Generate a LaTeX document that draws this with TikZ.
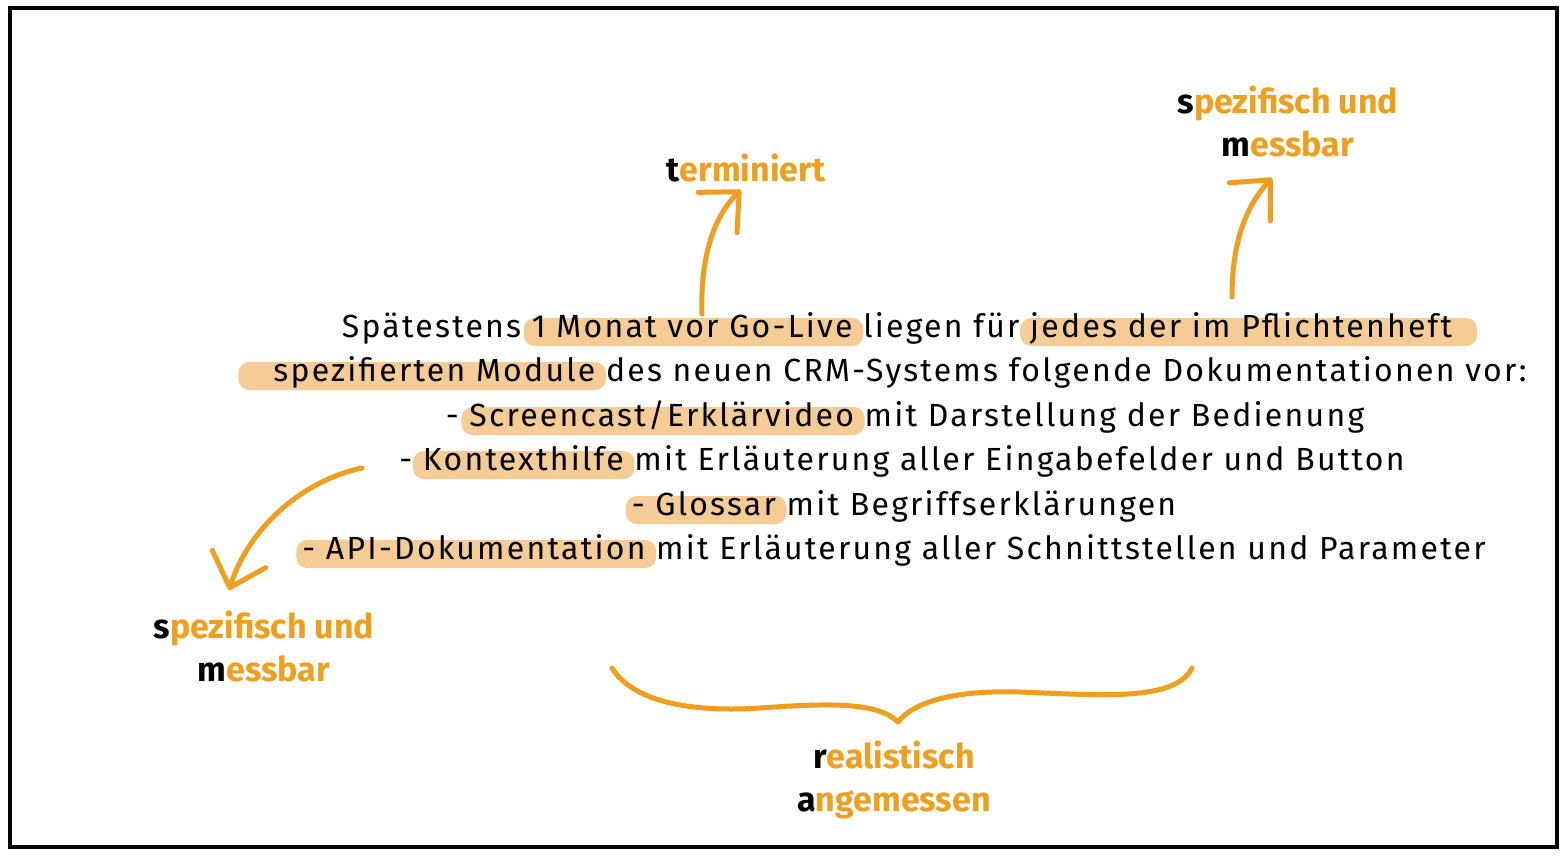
\documentclass[tikz,border=0pt]{standalone}
\usepackage{fontspec}
\setmainfont{Fira Sans}
\newfontfamily\hand[LetterSpace=7]{Fira Sans}
\usetikzlibrary{arrows.meta,backgrounds,calc}
\definecolor{org}{RGB}{240,158,30}
\definecolor{hl}{RGB}{246,204,150}
\newcommand\hlbox[3]{\fill[hl, rounded corners=11pt] ($(#1.base west)+(-#2,9)$) rectangle ($(#1.base east)+(#3,-19)$);}
\newcommand\wsp{\hbox{\ }}
\tikzset{
  txt/.style={inner sep=0pt, outer sep=0pt, anchor=base west, font=\hand\fontsize{32}{43}\selectfont},
  phan/.style={inner sep=0pt, outer sep=0pt, anchor=base, font=\hand\fontsize{32}{43}\selectfont},
  lab/.style={inner sep=0pt, text=org, align=center, font=\fontsize{34}{43}\selectfont\bfseries},
  arr/.style={draw=org, line width=5pt, line cap=round, -{Straight Barb[length=30pt,width=56pt,round]}},
  brace/.style={draw=org, line width=5pt, line cap=round, line join=round},
}
\begin{document}
\begin{tikzpicture}[x=1pt,y=-1pt]
\useasboundingbox (0,0) rectangle (1565,860);
\begin{pgfonlayer}{background}
\fill[white] (0,0) rectangle (1565,860);
\end{pgfonlayer}
\draw[line width=3.5pt] (10,8) rectangle (1557,847);

% line 1
\node[phan] (P1) at (897,337) {\phantom{Spätestens\wsp 1 Monat vor Go-Live\wsp liegen für\wsp jedes der im Pflichtenheft}};
\node[txt] (l1a) at (P1.base west) {Spätestens\wsp};
\node[txt] (l1b) at (l1a.base east) {1 Monat vor Go-Live\wsp};
\node[txt] (l1c) at (l1b.base east) {liegen für\wsp};
\node[txt] (l1d) at (l1c.base east) {jedes der im Pflichtenheft};
% line 2
\node[phan] (P2) at (900,381) {\phantom{spezifierten Module\wsp des neuen CRM-Systems folgende Dokumentationen vor:}};
\node[txt] (l2a) at (P2.base west) {spezifierten Module\wsp};
\node[txt] (l2b) at (l2a.base east) {des neuen CRM-Systems folgende Dokumentationen vor:};
% line 3
\node[phan] (P3) at (905,426) {\phantom{-\wsp Screencast/Erklärvideo\wsp mit Darstellung der Bedienung}};
\node[txt] (l3a) at (P3.base west) {-\wsp};
\node[txt] (l3b) at (l3a.base east) {Screencast/Erklärvideo\wsp};
\node[txt] (l3c) at (l3b.base east) {mit Darstellung der Bedienung};
% line 4
\node[phan] (P4) at (902,470) {\phantom{-\wsp Kontexthilfe\wsp mit Erläuterung aller Eingabefelder und Button}};
\node[txt] (l4a) at (P4.base west) {-\wsp};
\node[txt] (l4b) at (l4a.base east) {Kontexthilfe\wsp};
\node[txt] (l4c) at (l4b.base east) {mit Erläuterung aller Eingabefelder und Button};
% line 5
\node[phan] (P5) at (904,515) {\phantom{- Glossar\wsp mit Begriffserklärungen}};
\node[txt] (l5a) at (P5.base west) {- Glossar\wsp};
\node[txt] (l5b) at (l5a.base east) {mit Begriffserklärungen};
% line 6
\node[phan] (P6) at (894,559) {\phantom{- API-Dokumentation\wsp mit Erläuterung aller Schnittstellen und Parameter}};
\node[txt] (l6a) at (P6.base west) {- API-Dokumentation\wsp};
\node[txt] (l6b) at (l6a.base east) {mit Erläuterung aller Schnittstellen und Parameter};

\begin{pgfonlayer}{background}
\hlbox{l1b}{8}{0}
\hlbox{l1d}{10}{25}
\hlbox{l2a}{35}{0}
\hlbox{l3b}{8}{0}
\hlbox{l4b}{10}{0}
\hlbox{l5a}{6}{0}
\hlbox{l6a}{6}{0}
\end{pgfonlayer}

% labels
\node[lab] (T) at (746,168) {\textcolor{black}{t}erminiert};
\node[lab] (SR) at (1288,121) {\textcolor{black}{s}pezifisch und\\\textcolor{black}{m}essbar};
\node[lab] (SL) at (264,646) {\textcolor{black}{s}pezifisch und\\\textcolor{black}{m}essbar};
\node[lab] (R) at (894,780) {\textcolor{black}{r}ealistisch\\\textcolor{black}{a}ngemessen};

% arrows
\coordinate (s1) at (702,314);
\coordinate (t1) at (741,190);
\coordinate (s2) at (1232,297);
\coordinate (t2) at (1272,178);
\coordinate (s3) at (362,468);
\coordinate (t3) at (229,590);
\draw[arr] (s1) .. controls (700,255) and (715,215) .. (t1);
\draw[arr] (s2) .. controls (1232,240) and (1247,205) .. (t2);
\draw[arr] (s3) .. controls (305,480) and (250,525) .. (t3);

% brace
\coordinate (b1) at (612,668);
\coordinate (bc) at (898,722);
\coordinate (b2) at (1192,668);
\draw[brace] (b1) .. controls (635,705) and (700,712) .. (760,708)
  .. controls (830,703) and (878,702) .. (bc)
  .. controls (915,700) and (960,690) .. (1020,692)
  .. controls (1100,695) and (1175,702) .. (b2);
\end{tikzpicture}
\end{document}
